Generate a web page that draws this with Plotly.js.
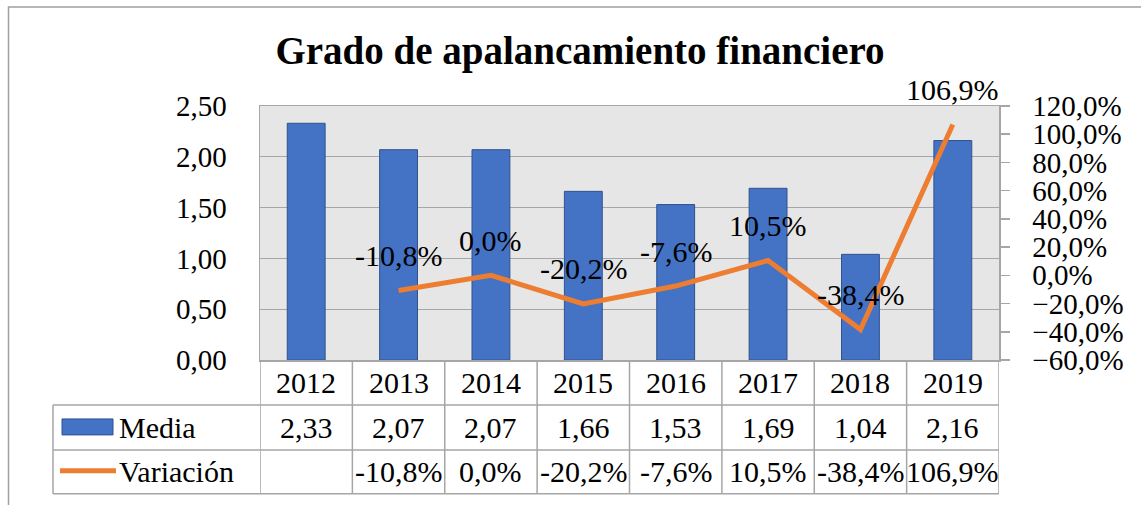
<!DOCTYPE html>
<html>
<head>
<meta charset="utf-8">
<script src="https://cdn.plot.ly/plotly-3.0.1.min.js"></script>
<style>
  html, body { margin: 0; padding: 0; background: #fff; }
  #chart { width: 1141px; height: 505px; }
</style>
</head>
<body>
<div id="chart"></div>
<script>
const categories = ['2012', '2013', '2014', '2015', '2016', '2017', '2018', '2019'];
const media = [2.33, 2.07, 2.07, 1.66, 1.53, 1.69, 1.04, 2.16];
const variacion = [null, -10.8, 0.0, -20.2, -7.6, 10.5, -38.4, 106.9];
const seriesNames = ['Media', 'Variación'];
const chartTitle = 'Grado de apalancamiento financiero';

const FONT = '"Liberation Serif", "Times New Roman", serif';
const FS = 29;
const FS_LBL = 30;
const GRID = '#A6A6A6';
const BLUE = '#4472C4';
const ORANGE = '#ED7D31';

// layout geometry helpers (pixel -> paper)
const L = 260, R = 999, T = 105.7, B = 360;
const W = R - L, H = B - T;
const px = x => (x - L) / W;
const py = y => (B - y) / H;

const fmtNum = v => v.toFixed(2).replace('.', ',');
const fmtPct = v => v.toFixed(1).replace('.', ',') + '%';

const traces = [
  {
    type: 'bar', name: seriesNames[0], x: categories, y: media,
    marker: { color: BLUE, line: { color: '#2F528F', width: 1 } },
    yaxis: 'y', hoverinfo: 'skip'
  },
  {
    type: 'scatter', mode: 'lines', name: seriesNames[1], x: categories, y: variacion,
    line: { color: ORANGE, width: 5 }, yaxis: 'y2', connectgaps: false, hoverinfo: 'skip'
  }
];

const annotations = [];
const shapes = [];
const tf = { family: FONT, size: FS, color: '#000' };
const lf = { family: FONT, size: FS_LBL, color: '#000' };

// line data labels (x = category serial number)
variacion.forEach((v, i) => {
  if (v === null) return;
  annotations.push({
    x: i, y: v, xref: 'x', yref: 'y2', yshift: 35,
    text: fmtPct(v), showarrow: false, font: lf
  });
});

// data table rows
const rowHeader = 382.5, rowMedia = 427.5, rowVar = 472;
categories.forEach((c, i) => {
  annotations.push({ x: i, y: py(rowHeader), xref: 'x', yref: 'paper', text: c, showarrow: false,
    yanchor: 'middle', font: lf });
  annotations.push({ x: i, y: py(rowMedia), xref: 'x', yref: 'paper', text: fmtNum(media[i]), showarrow: false,
    yanchor: 'middle', font: lf });
  if (variacion[i] !== null) {
    annotations.push({ x: i, y: py(rowVar), xref: 'x', yref: 'paper', text: fmtPct(variacion[i]), showarrow: false,
      yanchor: 'middle', font: lf });
  }
});
// legend labels in table
annotations.push({ x: px(117), y: py(rowMedia), xref: 'paper', yref: 'paper', text: seriesNames[0], showarrow: false,
  xanchor: 'left', yanchor: 'middle', font: lf });
annotations.push({ x: px(117), y: py(rowVar), xref: 'paper', yref: 'paper', text: seriesNames[1], showarrow: false,
  xanchor: 'left', yanchor: 'middle', font: lf });

// table grid lines
const tl = { color: GRID, width: 1.5 };
[405, 450, 494].forEach(y => {
  shapes.push({ type: 'line', xref: 'paper', yref: 'paper', x0: px(53), x1: 1, y0: py(y), y1: py(y), line: tl });
});
shapes.push({ type: 'line', xref: 'paper', yref: 'paper', x0: px(53), x1: px(53), y0: py(405), y1: py(494), line: tl });
for (let k = 0; k <= categories.length; k++) {
  shapes.push({ type: 'line', xref: 'x', yref: 'paper', x0: k - 0.5, x1: k - 0.5, y0: 0, y1: py(494), line: tl });
}
// legend swatches
shapes.push({ type: 'rect', xref: 'paper', yref: 'paper', x0: px(62), x1: px(113), y0: py(435), y1: py(419),
  fillcolor: BLUE, line: { color: '#2F528F', width: 1 } });
shapes.push({ type: 'line', xref: 'paper', yref: 'paper', x0: px(60), x1: px(116), y0: py(471), y1: py(471),
  line: { color: ORANGE, width: 5 } });
// outer chart border
shapes.push({ type: 'rect', xref: 'paper', yref: 'paper', x0: px(8.5), x1: px(1200), y0: py(600), y1: py(6.5),
  line: { color: '#A0A0A0', width: 1.5 }, fillcolor: 'rgba(0,0,0,0)', layer: 'below' });

const layout = {
  width: 1141, height: 505,
  margin: { l: L, r: 1141 - R, t: T, b: 505 - B, pad: 0 },
  paper_bgcolor: '#fff', plot_bgcolor: '#E7E6E6',
  separators: ',.',
  showlegend: false,
  font: tf,
  title: {
    text: '<b>' + chartTitle + '</b>',
    font: { family: FONT, size: 39, color: '#000' },
    x: 580 / 1141, xref: 'container', xanchor: 'center',
    y: 1 - 50 / 505, yref: 'container', yanchor: 'middle'
  },
  bargap: 0.59,
  xaxis: {
    type: 'category', range: [-0.5, categories.length - 0.5],
    showticklabels: false, ticks: '', showgrid: false,
    showline: true, mirror: true, linecolor: GRID, linewidth: 1.5, zeroline: false
  },
  yaxis: {
    range: [0, 2.5], dtick: 0.5, tick0: 0, tickformat: '.2f',
    showgrid: true, gridcolor: GRID, gridwidth: 1.2,
    showline: true, mirror: true, linecolor: GRID, linewidth: 1.5,
    ticks: '', ticklabelstandoff: 26, zeroline: false,
    tickfont: tf
  },
  yaxis2: {
    overlaying: 'y', side: 'right', range: [-60, 120], dtick: 20, tick0: -60,
    tickformat: '.1f', ticksuffix: '%', showgrid: false, zeroline: false,
    showline: true, linecolor: GRID, linewidth: 1.5,
    ticks: 'outside', ticklen: 9, tickcolor: GRID, tickwidth: 1.5,
    ticklabelstandoff: 17,
    tickfont: tf
  },
  annotations: annotations,
  shapes: shapes
};

Plotly.newPlot('chart', traces, layout, { displayModeBar: false, staticPlot: true });
</script>
</body>
</html>
